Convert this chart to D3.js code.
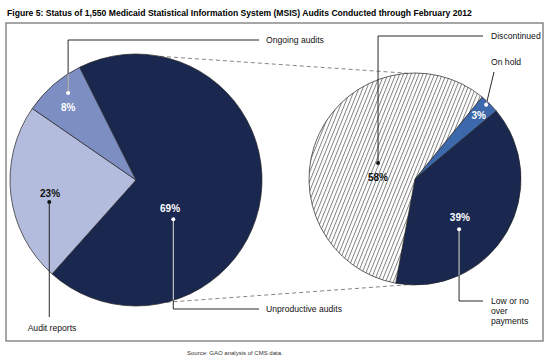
<!DOCTYPE html>
<html>
<head>
<meta charset="utf-8">
<script src="https://cdn.jsdelivr.net/npm/d3@7"></script>
<style>
  body { margin: 0; background: #fff; }
  svg text { font-family: Arial, "Liberation Sans", sans-serif; }
</style>
</head>
<body>
<script>
// left pie: all 1,550 audits
const leftCategories = ["Unproductive audits", "Audit reports", "Ongoing audits"];
const leftValues = [69, 23, 8];
// right pie: breakdown of unproductive audits
const rightCategories = ["On hold", "Low or no over payments", "Discontinued"];
const rightValues = [3, 39, 58];

const title = "Figure 5: Status of 1,550 Medicaid Statistical Information System (MSIS) Audits Conducted through February 2012";
const source = "Source: GAO analysis of CMS data.";

const width = 550, height = 361;
const navy = "#1a2850";

const svg = d3.select("body").append("svg")
  .attr("width", width)
  .attr("height", height);

const defs = svg.append("defs");
const hatch = defs.append("pattern")
  .attr("id", "hatch")
  .attr("patternUnits", "userSpaceOnUse")
  .attr("width", 3.6).attr("height", 3.6)
  .attr("patternTransform", "rotate(22)");
hatch.append("rect").attr("width", 3.6).attr("height", 3.6).attr("fill", "#fff");
hatch.append("line")
  .attr("x1", 0.5).attr("y1", 0).attr("x2", 0.5).attr("y2", 3.6)
  .attr("stroke", "#555").attr("stroke-width", 0.7);

svg.append("text")
  .attr("x", 7).attr("y", 16)
  .style("font-size", "8.6px")
  .style("font-weight", "bold")
  .text(title);

svg.append("rect")
  .attr("x", 6).attr("y", 23)
  .attr("width", 537).attr("height", 318)
  .attr("fill", "none")
  .attr("stroke", "#777")
  .attr("stroke-width", 1.3);

svg.append("text")
  .attr("x", 187).attr("y", 355)
  .style("font-size", "6px")
  .attr("fill", "#333")
  .text(source);

const rad = Math.PI / 180;

function polar(p, deg, frac) {
  const a = deg * rad;
  return [p.cx + Math.sin(a) * p.r * frac, p.cy - Math.cos(a) * p.r * frac];
}

const leftPie = {
  cx: 136, cy: 180, r: 126, start: -26.6,
  cats: leftCategories, vals: leftValues,
  fills: ["#1a2850", "#b3bcdc", "#7d8ec2"],
  pctColor: ["#fff", "#111", "#fff"],
  label: [[129.5, 0.35], [261.4, 0.69], [-43, 0.79]],
  dot: [[136.5, 0.43], [255.8, 0.71], [-38, 0.875]],
  dotColor: ["#fff", "#111", "#fff"],
  // leader route after the dot: list of points, and the text anchor
  leader: [
    {path: [["dot"], ["x", 309], [259, 309]], text: [266, 312], anchor: "start"},
    {path: [["dot"], ["x", 317]], text: [52, 331], anchor: "middle"},
    {path: [["dot"], ["x", 40], [259, 40]], text: [266, 43], anchor: "start"}
  ]
};

const rightPie = {
  cx: 415, cy: 179, r: 106, start: 39.3,
  cats: rightCategories, vals: rightValues,
  fills: ["#3d68ab", navy, "url(#hatch)"],
  pctColor: ["#fff", "#fff", "#111"],
  label: [[45, 0.85], [130.9, 0.56], [273, 0.35]],
  dot: [[43.8, 0.97], [138.7, 0.63], [293.4, 0.38]],
  dotColor: ["#fff", "#fff", "#111"],
  leader: [
    {path: [["dot"], [494, 72]], text: [491, 65], anchor: "start"},
    {path: [["dot"], ["x", 301], [483, 301]], text: [491, 304], anchor: "start", lines: ["Low or no", "over", "payments"]},
    {path: [["dot"], ["x", 36], [483, 36]], text: [491, 39], anchor: "start"}
  ]
};

// dashed connectors between the two pies
const connectors = [
  [polar(leftPie, 11, 1), polar(rightPie, -4, 1)],
  [polar(leftPie, 166, 1), polar(rightPie, 184, 1)]
];
svg.selectAll(".conn")
  .data(connectors)
  .enter().append("line")
  .attr("class", "conn")
  .attr("x1", d => d[0][0]).attr("y1", d => d[0][1])
  .attr("x2", d => d[1][0]).attr("y2", d => d[1][1])
  .attr("stroke", "#666")
  .attr("stroke-width", 0.8)
  .attr("stroke-dasharray", "4,3");

function drawPie(p, id) {
  const pie = d3.pie().sort(null)
    .startAngle(p.start * rad)
    .endAngle(p.start * rad + 2 * Math.PI);
  const arcs = pie(p.vals);
  const arc = d3.arc().innerRadius(0).outerRadius(p.r);

  defs.append("clipPath").attr("id", "clip-" + id)
    .append("circle").attr("cx", p.cx).attr("cy", p.cy).attr("r", p.r);

  const g = svg.append("g").attr("transform", `translate(${p.cx},${p.cy})`);
  g.selectAll("path")
    .data(arcs)
    .enter().append("path")
    .attr("d", arc)
    .attr("fill", (d, i) => p.fills[i])
    .attr("stroke", "#222")
    .attr("stroke-width", 0.7);

  arcs.forEach((d, i) => {
    const dot = polar(p, p.dot[i][0], p.dot[i][1]);
    const pts = p.leader[i].path.map(q => {
      if (q[0] === "dot") return dot;
      if (q[0] === "x") return [dot[0], q[1]];
      return q;
    });
    const line = d3.line()(pts);
    svg.append("path").attr("d", line)
      .attr("fill", "none").attr("stroke", "#111").attr("stroke-width", 0.9);
    if (p.dotColor[i] === "#fff") {
      svg.append("path").attr("d", line)
        .attr("clip-path", `url(#clip-${id})`)
        .attr("fill", "none").attr("stroke", "#fff").attr("stroke-width", 0.9);
    }
    svg.append("circle")
      .attr("cx", dot[0]).attr("cy", dot[1]).attr("r", 2)
      .attr("fill", p.dotColor[i]);

    const lp = polar(p, p.label[i][0], p.label[i][1]);
    svg.append("text")
      .attr("x", lp[0]).attr("y", lp[1] + 3.5)
      .attr("text-anchor", "middle")
      .style("font-size", "10px")
      .style("font-weight", "bold")
      .attr("fill", p.pctColor[i])
      .text(d3.format(".0f")(d.data) + "%");

    const lead = p.leader[i];
    const t = svg.append("text")
      .attr("x", lead.text[0]).attr("y", lead.text[1])
      .attr("text-anchor", lead.anchor)
      .style("font-size", "8.6px")
      .attr("fill", "#111");
    const lines = lead.lines || [p.cats[i]];
    lines.forEach((s, k) => {
      t.append("tspan").attr("x", lead.text[0]).attr("dy", k === 0 ? 0 : 10).text(s);
    });
  });
}

drawPie(leftPie, "l");
drawPie(rightPie, "r");
</script>
</body>
</html>
